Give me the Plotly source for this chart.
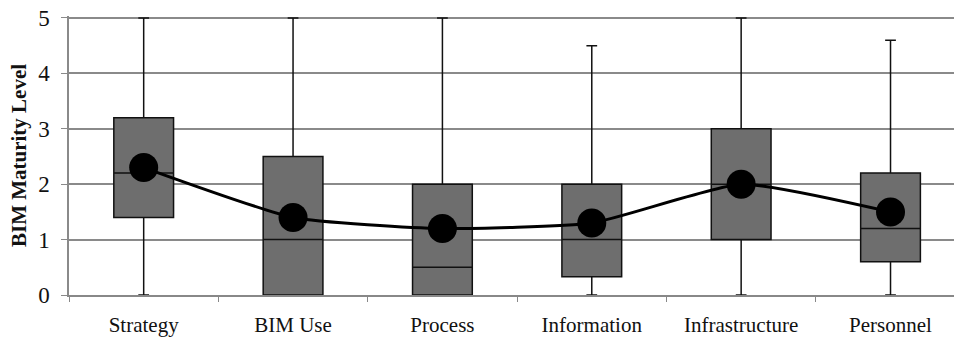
import plotly.graph_objects as go

categories = ["Strategy", "BIM Use", "Process", "Information", "Infrastructure", "Personnel"]
lower = [0, 0, 0, 0, 0, 0]
q1 = [1.4, 0, 0, 0.33, 1.0, 0.6]
median = [2.2, 1.0, 0.5, 1.0, 2.0, 1.2]
q3 = [3.2, 2.5, 2.0, 2.0, 3.0, 2.2]
upper = [5, 5, 5, 4.5, 5, 4.6]
mean = [2.3, 1.4, 1.2, 1.3, 2.0, 1.5]
y_ticks = [0, 1, 2, 3, 4, 5]

font_fam = "Liberation Serif, Times New Roman, serif"
grid_col = "#8a8a8a"

fig = go.Figure()
fig.add_trace(go.Box(
    x=categories, q1=q1, median=median, q3=q3,
    lowerfence=lower, upperfence=upper,
    fillcolor="#6e6e6e",
    line=dict(color="#111111", width=1.5),
    whiskerwidth=0.18,
    width=0.4,
    boxpoints=False,
    showlegend=False,
    hoverinfo="skip",
))
fig.add_trace(go.Scatter(
    x=categories, y=mean,
    mode="lines+markers",
    line=dict(color="black", width=3, shape="spline", smoothing=0.5),
    marker=dict(color="black", size=29),
    showlegend=False,
))

fig.update_layout(
    width=954, height=337,
    margin=dict(l=69, r=0, t=16, b=42, autoexpand=False),
    paper_bgcolor="white",
    plot_bgcolor="white",
    font=dict(family=font_fam, color="#111111"),
)

fig.update_xaxes(
    type="category",
    range=[-0.5, 5.425],
    automargin=False,
    showgrid=False,
    tickson="boundaries",
    ticks="outside",
    ticklen=5,
    tickcolor="#888888",
    showline=True,
    linecolor="#888888",
    linewidth=1.5,
    ticklabelstandoff=10,
    tickfont=dict(size=21, family=font_fam, color="#111111"),
    zeroline=False,
)
fig.update_yaxes(
    range=[0, 5.036],
    automargin=False,
    tickvals=y_ticks,
    showgrid=True,
    gridcolor=grid_col,
    gridwidth=1.5,
    ticks="outside",
    ticklen=6,
    tickcolor=grid_col,
    showline=True,
    linecolor=grid_col,
    linewidth=1.5,
    zeroline=False,
    ticklabelstandoff=7,
    tickfont=dict(size=23, family=font_fam, color="#111111"),
    title=dict(text="<b>BIM Maturity Level</b>", font=dict(size=21, family=font_fam, color="#111111"), standoff=6),
)

fig.write_html("out.html", config={"displayModeBar": False},
               post_script="document.body.style.margin='0';")
